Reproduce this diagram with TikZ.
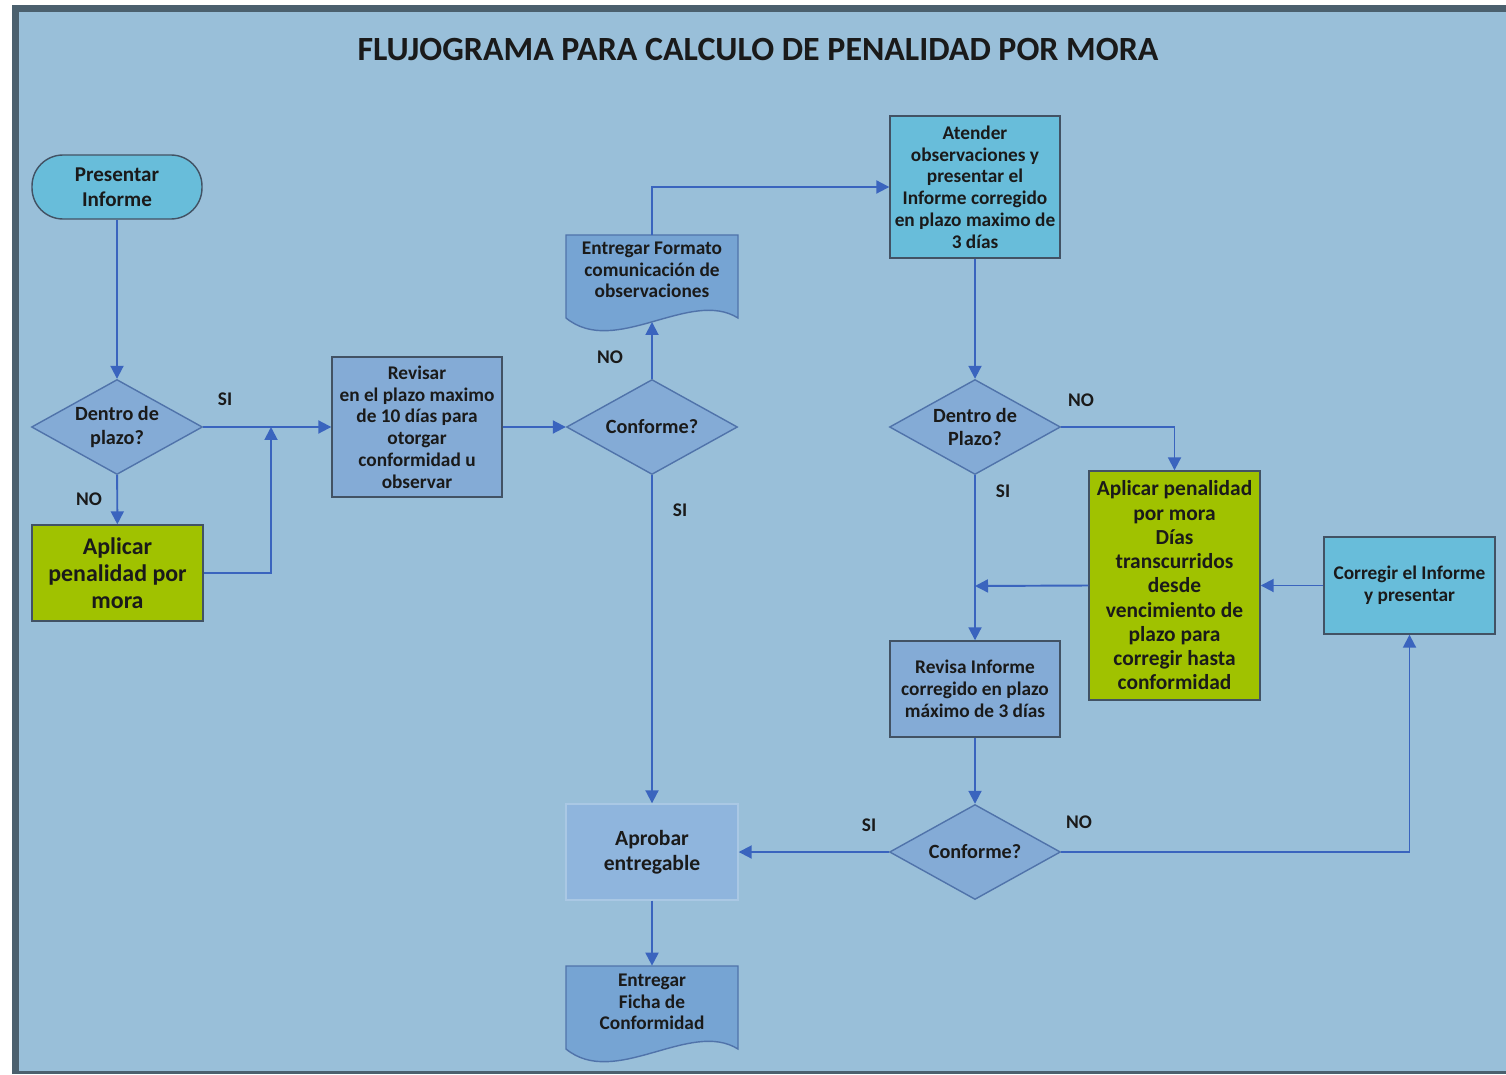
\documentclass[tikz,border=0pt]{standalone}
\usepackage{fontspec}
\setmainfont{Carlito}
\usetikzlibrary{shapes.geometric,arrows.meta,backgrounds}

\definecolor{panel}{RGB}{153,191,217}
\definecolor{framedark}{RGB}{75,96,110}
\definecolor{stepblue}{RGB}{132,171,214}
\definecolor{docblue}{RGB}{118,164,211}
\definecolor{softblue}{RGB}{143,181,221}
\definecolor{softedge}{RGB}{170,200,228}
\definecolor{cyanbox}{RGB}{104,189,218}
\definecolor{limebox}{RGB}{160,194,0}
\definecolor{flow}{RGB}{58,100,190}
\definecolor{askedge}{RGB}{80,115,170}
\definecolor{boxedge}{RGB}{66,82,100}
\definecolor{ink}{RGB}{26,26,26}

\tikzset{
  proc/.style={rectangle,draw=boxedge,line width=0.8pt,fill=#1,minimum width=3.4cm,
    align=center,text=ink,inner sep=1pt,font=\fontsize{11}{12.4}\selectfont\bfseries},
  term/.style={rectangle,rounded corners=0.62cm,draw=boxedge,line width=0.8pt,fill=cyanbox,
    minimum width=3.4cm,minimum height=1.28cm,align=center,text=ink,
    font=\fontsize{12}{14}\selectfont\bfseries},
  ask/.style={diamond,aspect=1.8,draw=askedge,line width=0.8pt,fill=stepblue,
    minimum width=3.42cm,minimum height=1.9cm,inner sep=0pt,align=center,text=ink,
    font=\fontsize{11.5}{13.5}\selectfont\bfseries},
  docnode/.style={rectangle,minimum width=3.44cm,align=center,text=ink,
    font=\fontsize{11}{12.2}\selectfont\bfseries},
  docline/.style={fill=docblue,draw=askedge,line width=0.8pt},
  tag/.style={text=ink,font=\fontsize{11}{12}\selectfont\bfseries},
  flowline/.style={draw=flow,line width=1.1pt,-{Triangle[length=0.26cm,width=0.26cm]}}
}

\begin{document}
\begin{tikzpicture}[x=0.02cm,y=-0.02cm]
\useasboundingbox (0,0) rectangle (1506,1074);
% panel and document shapes
\begin{scope}[on background layer]
\fill[framedark] (12,5) rectangle (1506,1074);
\fill[panel] (19,12) rectangle (1506,1071);
\filldraw[docline] (566,235) -- (738,235) -- (738,318) .. controls (690,288) and (615,358) .. (566,318) -- cycle;
\filldraw[docline] (566,966) -- (738,966) -- (738,1049) .. controls (690,1019) and (615,1089) .. (566,1049) -- cycle;
\end{scope}

\node (title) at (758,50) [text=ink,font=\fontsize{19.3}{22}\selectfont\bfseries] {FLUJOGRAMA PARA CALCULO DE PENALIDAD POR MORA};

% left column
\node (pres) at (117,187) [term] {Presentar\\Informe};
\node (dp1) at (117,427) [ask] {Dentro de\\plazo?};
\node (apl1) at (117.5,573) [proc=limebox,minimum width=3.42cm,minimum height=1.92cm,font=\fontsize{13.6}{15.3}\selectfont\bfseries] {Aplicar\\penalidad por\\mora};
\node (rev) at (417,427) [proc=stepblue,minimum height=2.8cm] {Revisar\\en el plazo maximo\\de 10 días para\\otorgar\\conformidad u\\observar};
\coordinate (j1) at (271,427);

% middle column
\node (conf1) at (652,427) [ask] {Conforme?};
\node (doc1) at (652,270) [docnode,minimum height=1.4cm] {Entregar Formato\\comunicación de\\observaciones};
\coordinate (w1) at (652,322);
\node (apro) at (652,852) [proc=softblue,draw=softedge,minimum width=3.44cm,minimum height=1.92cm,font=\fontsize{12.3}{14}\selectfont\bfseries] {Aprobar\\entregable};
\node (doc2) at (652,1002) [docnode,minimum height=1.44cm] {Entregar\\Ficha de\\Conformidad};

% right columns
\node (aten) at (975,187) [proc=cyanbox,minimum height=2.84cm] {Atender\\observaciones y\\presentar el\\Informe corregido\\en plazo maximo de\\3 días};
\node (dp2) at (975,427) [ask] {Dentro de\\Plazo?};
\node (apl2) at (1174.5,585.5) [proc=limebox,minimum width=3.42cm,minimum height=4.58cm,font=\fontsize{12.2}{13.8}\selectfont\bfseries] {Aplicar penalidad\\por mora\\Días\\transcurridos\\desde\\vencimiento de\\plazo para\\corregir hasta\\conformidad};
\node (corr) at (1409.5,585.5) [proc=cyanbox,minimum width=3.42cm,minimum height=1.94cm] {Corregir el Informe\\y presentar};
\node (revi) at (975,689) [proc=stepblue,minimum height=1.92cm] {Revisa Informe\\corregido en plazo\\máximo de 3 días};
\node (conf3) at (975,852) [ask] {Conforme?};
\coordinate (j2) at (975,586);

% connectors
\draw[flowline] (pres) -- (dp1);
\draw[flowline] (dp1) -- (rev);
\draw[flowline] (dp1) -- (apl1);
\draw[flowline] (apl1.east) -| (j1);
\draw[flowline] (rev) -- (conf1);
\draw[flowline] (conf1) -- (w1);
\draw[flowline] (doc1.north) |- (aten.west);
\draw[flowline] (conf1) -- (apro);
\draw[flowline] (apro) -- (doc2);
\draw[flowline] (aten) -- (dp2);
\draw[flowline] (dp2.east) -| (apl2.north);
\draw[flowline] (dp2) -- (revi);
\draw[flowline] (apl2.west) -- (j2);
\draw[flowline] (corr) -- (apl2);
\draw[flowline] (revi) -- (conf3);
\draw[flowline] (conf3) -- (apro);
\draw[flowline] (conf3.east) -| (corr.south);

% labels
\node (si1) at (225,399) [tag] {SI};
\node (no1) at (89,499) [tag] {NO};
\node (no2) at (610,357) [tag] {NO};
\node (si2) at (680,510) [tag] {SI};
\node (no3) at (1081,400) [tag] {NO};
\node (si3) at (1003,491) [tag] {SI};
\node (si4) at (869,825) [tag] {SI};
\node (no4) at (1079,822) [tag] {NO};
\end{tikzpicture}
\end{document}
